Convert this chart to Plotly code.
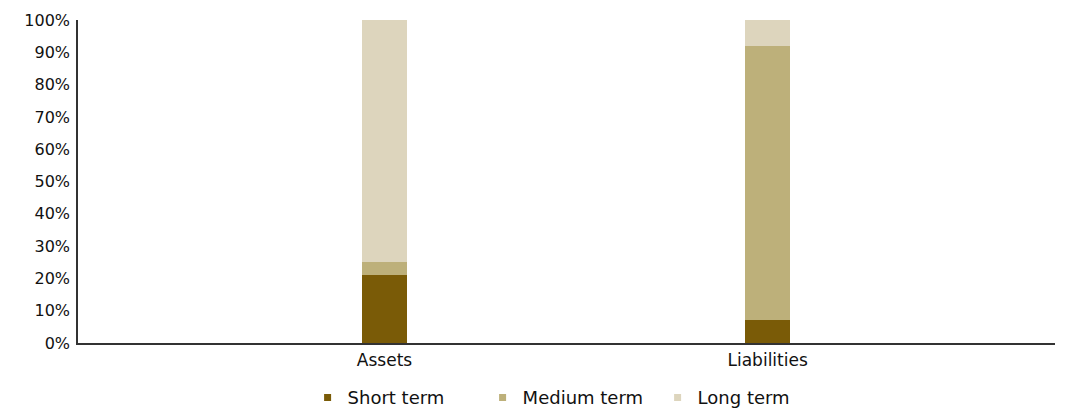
import plotly.graph_objects as go

categories = ["Assets", "Liabilities"]
short_term = [21, 7]
medium_term = [4, 85]
long_term = [75, 8]
series_names = ["Short term", "Medium term", "Long term"]
tick_vals = [0, 10, 20, 30, 40, 50, 60, 70, 80, 90, 100]
tick_text = [f"{v}%" for v in tick_vals]

colors = ["#7a5b07", "#bdb07a", "#ddd5bd"]

fig = go.Figure()
for name, vals, c in zip(series_names, [short_term, medium_term, long_term], colors):
    fig.add_trace(go.Bar(x=categories, y=vals, name=name, marker_color=c,
                         marker_line_width=0, width=0.117, showlegend=False))
# legend entries with small square swatches
for name, c in zip(series_names, colors):
    fig.add_trace(go.Scatter(x=[None], y=[None], mode="markers", name=name,
                             marker=dict(symbol="square", size=7, color=c)))

fig.update_layout(
    barmode="stack",
    width=1068, height=410,
    margin=dict(l=78, r=13, t=20, b=67),
    plot_bgcolor="white", paper_bgcolor="white",
    font=dict(family="DejaVu Sans", size=16, color="#111"),
    showlegend=True,
    legend=dict(orientation="h", x=0.235, xanchor="left",
                yref="container", y=0.03, yanchor="middle",
                font=dict(size=18), itemwidth=30, traceorder="normal",
                entrywidth=130, entrywidthmode="pixels"),
    xaxis=dict(range=[-0.8, 1.75], showline=True, linecolor="#333", linewidth=1.5,
               ticks="outside", ticklen=1, tickcolor="rgba(0,0,0,0)",
               showgrid=False, tickfont=dict(size=17), automargin=False),
    yaxis=dict(range=[0, 100], tickvals=tick_vals, ticktext=tick_text, showline=True,
               linecolor="#333", linewidth=1.5, showgrid=False, zeroline=False,
               ticks="outside", ticklen=3, tickcolor="rgba(0,0,0,0)",
               tickfont=dict(size=16), automargin=False),
)
fig.write_html("out.html", config={"displayModeBar": False},
               post_script="document.body.style.margin='0';")
